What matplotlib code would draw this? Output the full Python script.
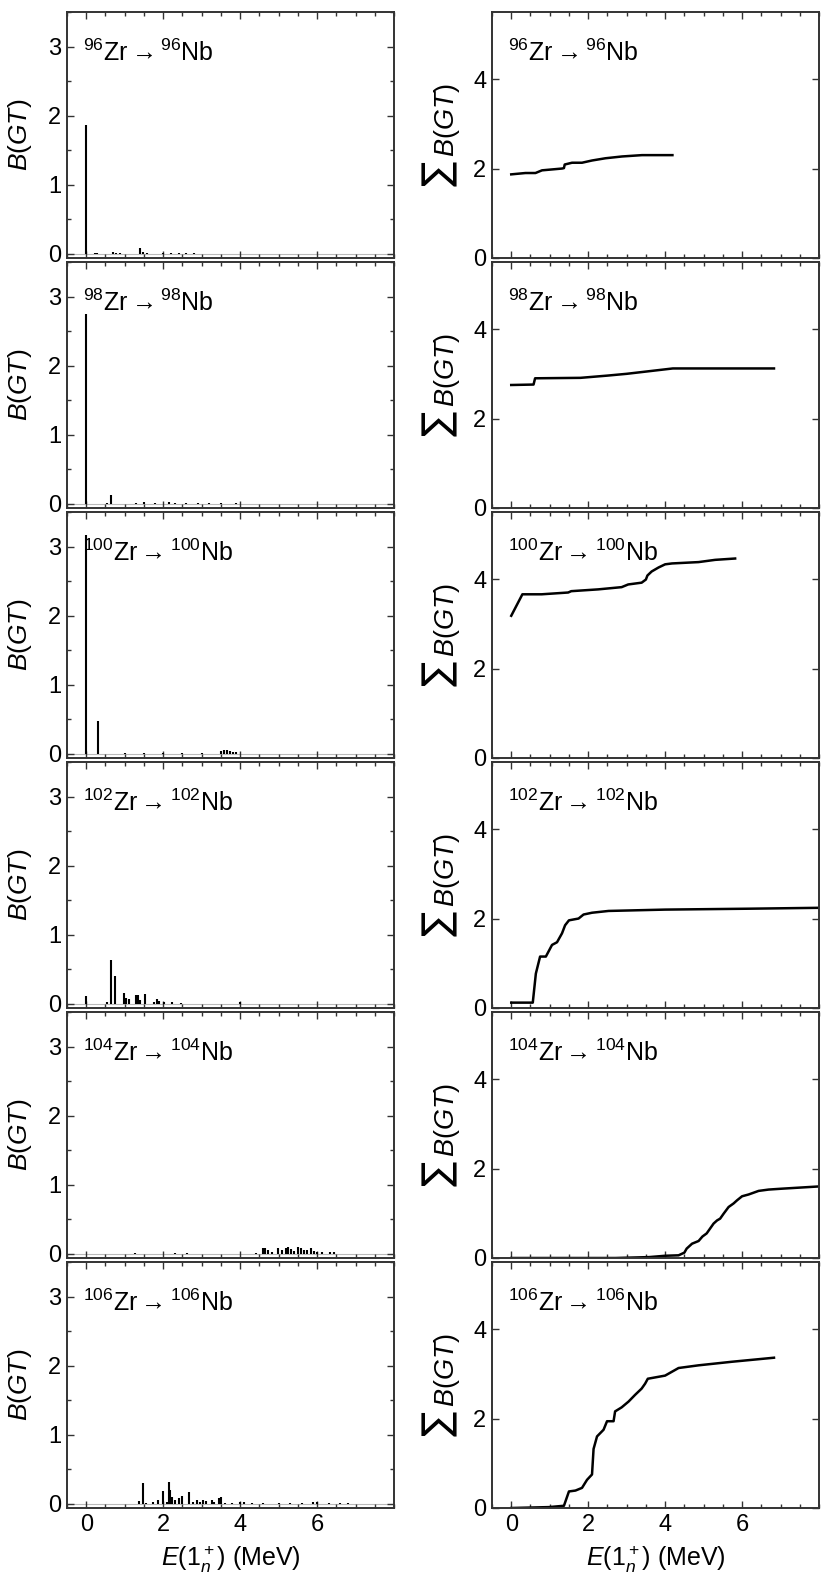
import numpy as np
import matplotlib
matplotlib.use("Agg")
import matplotlib.pyplot as plt
from matplotlib.ticker import MultipleLocator, FixedLocator

plt.rcParams["font.family"] = ["Liberation Sans", "DejaVu Sans"]
plt.rcParams["mathtext.fontset"] = "custom"
plt.rcParams["mathtext.rm"] = "Liberation Sans"
plt.rcParams["mathtext.it"] = "Liberation Sans:italic"
plt.rcParams["mathtext.bf"] = "Liberation Sans:bold"

MASSES = [96, 98, 100, 102, 104, 106]

# ----------------------------------------------------------------------
# B(GT) strengths per 1+ state (energy in MeV, strength)
# ----------------------------------------------------------------------
E_96 = [0.0, 0.23, 0.29, 0.69, 0.78, 0.87, 1.39, 1.48, 1.58, 2.0, 2.2, 2.4, 2.6, 2.8]
B_96 = [1.87, 0.01, 0.01, 0.02, 0.01, 0.015, 0.08, 0.03, 0.01, 0.01, 0.01, 0.01, 0.01, 0.01]

E_98 = [0.0, 0.53, 0.64, 1.3, 1.5, 1.8, 2.15, 2.3, 2.6, 2.9, 3.2, 3.5, 3.9]
B_98 = [2.75, 0.01, 0.13, 0.01, 0.02, 0.01, 0.03, 0.015, 0.01, 0.01, 0.01, 0.015, 0.01]

E_100 = [0.0, 0.30, 1.0, 1.5, 2.0, 2.5, 3.0, 3.5, 3.58, 3.66, 3.74, 3.82, 3.9]
B_100 = [3.17, 0.48, 0.01, 0.01, 0.01, 0.01, 0.01, 0.04, 0.06, 0.05, 0.04, 0.03, 0.02]

E_102 = [0.0, 0.54, 0.64, 0.76, 0.99, 1.04, 1.11, 1.30, 1.35, 1.41, 1.52, 1.75,
         1.84, 1.90, 2.02, 2.24, 2.46, 4.0]
B_102 = [0.11, 0.02, 0.63, 0.40, 0.16, 0.09, 0.07, 0.13, 0.13, 0.06, 0.14, 0.03,
         0.07, 0.04, 0.02, 0.02, 0.01, 0.02]

E_104 = [1.26, 2.31, 2.62, 4.40, 4.60, 4.65, 4.72, 4.82, 4.99, 5.09, 5.19, 5.25,
         5.32, 5.40, 5.50, 5.59, 5.66, 5.74, 5.84, 5.92, 5.99, 6.12, 6.34, 6.44]
B_104 = [0.01, 0.01, 0.01, 0.01, 0.09, 0.08, 0.05, 0.02, 0.08, 0.06, 0.08, 0.10,
         0.07, 0.04, 0.10, 0.08, 0.06, 0.05, 0.09, 0.04, 0.03, 0.02, 0.02, 0.02]

E_106 = [1.38, 1.47, 1.56, 1.74, 1.87, 1.99, 2.09, 2.14, 2.19, 2.24, 2.30, 2.40,
         2.50, 2.68, 2.78, 2.88, 2.95, 3.03, 3.12, 3.27, 3.33, 3.46, 3.51, 3.6,
         3.8, 4.0, 4.1, 4.3, 4.6, 5.0, 5.3, 5.6, 5.9, 6.0, 6.3, 6.6, 6.8]
B_106 = [0.04, 0.30, 0.01, 0.03, 0.05, 0.19, 0.03, 0.32, 0.20, 0.10, 0.05, 0.08,
         0.12, 0.17, 0.02, 0.05, 0.03, 0.05, 0.04, 0.06, 0.03, 0.09, 0.10, 0.01,
         0.01, 0.02, 0.02, 0.01, 0.01, 0.01, 0.01, 0.01, 0.02, 0.02, 0.01, 0.01, 0.01]

# ----------------------------------------------------------------------
# running sum of B(GT)
# ----------------------------------------------------------------------
SE_96 = [0.0, 0.37, 0.63, 0.80, 1.32, 1.37, 1.39, 1.58, 1.84, 2.10, 2.45, 2.88, 3.40, 4.19]
S_96 = [1.87, 1.90, 1.90, 1.96, 2.00, 2.01, 2.09, 2.13, 2.13, 2.18, 2.23, 2.27, 2.30, 2.30]

SE_98 = [0.0, 0.58, 0.62, 1.8, 2.5, 3.0, 3.5, 4.2, 6.83]
S_98 = [2.75, 2.76, 2.90, 2.91, 2.96, 3.00, 3.05, 3.12, 3.12]

SE_100 = [0.0, 0.29, 0.79, 1.48, 1.56, 2.26, 2.87, 3.04, 3.39, 3.50, 3.54, 3.65,
          3.83, 4.00, 4.18, 4.87, 5.30, 5.82]
S_100 = [3.18, 3.66, 3.66, 3.70, 3.73, 3.77, 3.82, 3.88, 3.92, 3.99, 4.08, 4.17,
         4.26, 4.33, 4.35, 4.38, 4.43, 4.46]

SE_102 = [0.0, 0.56, 0.64, 0.75, 0.90, 1.06, 1.19, 1.32, 1.40, 1.50, 1.75, 1.88,
          2.10, 2.53, 4.00, 6.17, 8.0]
S_102 = [0.12, 0.12, 0.77, 1.15, 1.15, 1.41, 1.47, 1.67, 1.85, 1.96, 2.00, 2.09,
         2.13, 2.17, 2.20, 2.22, 2.24]

SE_104 = [0.0, 2.71, 3.58, 4.00, 4.35, 4.50, 4.56, 4.70, 4.87, 4.97, 5.08, 5.17,
          5.26, 5.35, 5.43, 5.52, 5.65, 5.78, 5.87, 6.00, 6.17, 6.43, 6.69, 7.04, 8.0]
S_104 = [0.0, 0.0, 0.02, 0.05, 0.06, 0.12, 0.21, 0.32, 0.38, 0.48, 0.55, 0.66,
         0.77, 0.84, 0.88, 0.99, 1.14, 1.22, 1.29, 1.38, 1.42, 1.50, 1.53, 1.55, 1.60]

SE_106 = [0.0, 0.98, 1.37, 1.50, 1.67, 1.84, 1.97, 2.10, 2.14, 2.23, 2.40, 2.49,
          2.66, 2.70, 2.87, 3.05, 3.22, 3.39, 3.48, 3.55, 4.00, 4.35, 4.87, 5.74, 6.83]
S_106 = [0.0, 0.02, 0.05, 0.37, 0.39, 0.45, 0.63, 0.75, 1.32, 1.60, 1.75, 1.94,
         1.94, 2.16, 2.25, 2.38, 2.53, 2.67, 2.78, 2.89, 2.96, 3.13, 3.19, 3.27, 3.36]

STRENGTHS = [(E_96, B_96), (E_98, B_98), (E_100, B_100),
             (E_102, B_102), (E_104, B_104), (E_106, B_106)]
SUMS = [(SE_96, S_96), (SE_98, S_98), (SE_100, S_100),
        (SE_102, S_102), (SE_104, S_104), (SE_106, S_106)]


def style_axis(ax, ymajor, yminor):
    ax.set_xlim(-0.5, 8.0)
    ax.xaxis.set_major_locator(FixedLocator([0, 2, 4, 6]))
    ax.xaxis.set_minor_locator(MultipleLocator(0.5))
    ax.yaxis.set_major_locator(MultipleLocator(ymajor))
    if yminor:
        ax.yaxis.set_minor_locator(MultipleLocator(yminor))
    ax.tick_params(which="both", direction="in", top=True, right=True,
                   labelsize=17, width=1.0, color="#333333")
    ax.tick_params(which="major", length=5, pad=4)
    ax.tick_params(which="minor", length=3)
    for sp in ax.spines.values():
        sp.set_linewidth(1.4)
        sp.set_color("#333333")


fig = plt.figure(figsize=(8.31, 15.88), dpi=100)
W, H = 831.0, 1588.0

for i, m in enumerate(MASSES):
    top = 12 + 250 * i
    h = 246
    label = r"$^{%d}$Zr$\rightarrow$$^{%d}$Nb" % (m, m)
    last = i == len(MASSES) - 1

    # left: individual strengths
    ax = fig.add_axes([67 / W, 1 - (top + h) / H, 327 / W, h / H])
    e, b = STRENGTHS[i]
    ax.axhline(0, color="#bbbbbb", lw=0.8, zorder=1)
    ax.vlines(e, 0, b, color="black", lw=1.5, zorder=2)
    ax.set_ylim(-0.06, 3.5)
    style_axis(ax, 1, 0.5)
    ax.set_ylabel(r"$B(GT)$", fontsize=19)
    ax.yaxis.set_label_coords(-0.1, 0.5)
    ax.text(0.05, 0.8, label, transform=ax.transAxes, fontsize=18, va="baseline")
    if last:
        ax.set_xlabel(r"$E(1_n^+)$ (MeV)", fontsize=18, labelpad=6)
    else:
        ax.tick_params(labelbottom=False)

    # right: running sum
    ax = fig.add_axes([492 / W, 1 - (top + h) / H, 327 / W, h / H])
    se, s = SUMS[i]
    ax.plot(se, s, color="black", lw=1.8, solid_joinstyle="round")
    ax.set_ylim(0, 5.5)
    style_axis(ax, 2, None)
    ax.text(-0.158, 0.345, "\u2211", transform=ax.transAxes, rotation=90,
            fontsize=27, family="DejaVu Sans", ha="center", va="center")
    ax.text(-0.137, 0.56, r"$B(GT)$", transform=ax.transAxes, rotation=90,
            fontsize=19.5, ha="center", va="center")
    ax.text(0.05, 0.8, label, transform=ax.transAxes, fontsize=18, va="baseline")
    if last:
        ax.set_xlabel(r"$E(1_n^+)$ (MeV)", fontsize=18, labelpad=6)
    else:
        ax.tick_params(labelbottom=False)

fig.savefig("out.png", dpi=100)
